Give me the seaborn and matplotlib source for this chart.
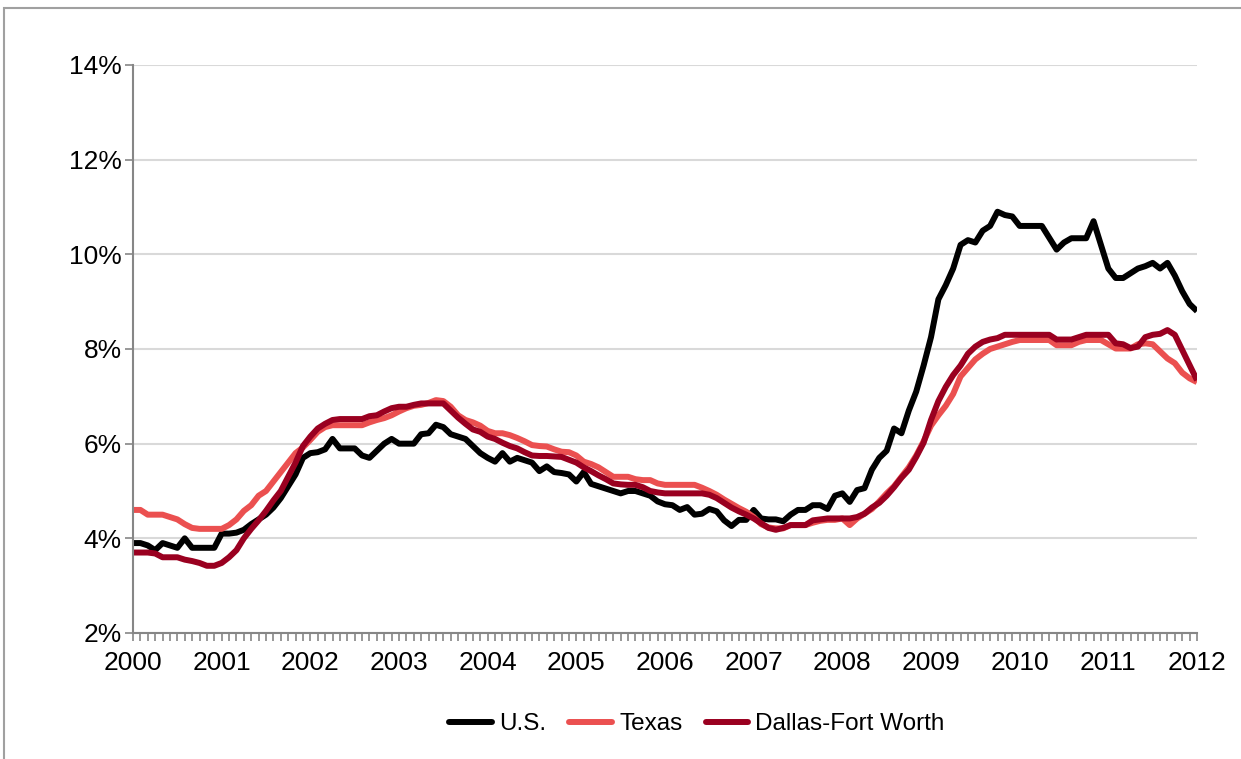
import numpy as np
import pandas as pd
import matplotlib
matplotlib.use("Agg")
import matplotlib.pyplot as plt
import seaborn as sns
from matplotlib.lines import Line2D
from matplotlib.patches import Rectangle
from matplotlib.ticker import MultipleLocator, FuncFormatter

# Monthly unemployment rates, Jan 2000 - Jan 2012 (percent)
us = [
    3.9, 3.9, 3.85, 3.75, 3.9, 3.85, 3.8, 4.0, 3.8, 3.8, 3.8, 3.8,
    4.1, 4.1, 4.12, 4.18, 4.3, 4.4, 4.5, 4.65, 4.85, 5.1, 5.35, 5.7,
    5.8, 5.82, 5.88, 6.1, 5.9, 5.9, 5.9, 5.75, 5.7, 5.85, 6.0, 6.1,
    6.0, 6.0, 6.0, 6.2, 6.22, 6.4, 6.35, 6.2, 6.15, 6.1, 5.95, 5.8,
    5.7, 5.62, 5.8, 5.62, 5.7, 5.65, 5.6, 5.42, 5.52, 5.4, 5.38, 5.35,
    5.2, 5.4, 5.15, 5.1, 5.05, 5.0, 4.95, 5.0, 5.0, 4.95, 4.9, 4.78,
    4.72, 4.7, 4.6, 4.66, 4.5, 4.52, 4.62, 4.57, 4.38, 4.26, 4.39, 4.39,
    4.6, 4.42, 4.4, 4.4, 4.36, 4.5, 4.6, 4.6, 4.7, 4.7, 4.62, 4.9,
    4.95, 4.77, 5.02, 5.06, 5.45, 5.7, 5.85, 6.32, 6.22, 6.7, 7.1, 7.65,
    8.25, 9.05, 9.35, 9.7, 10.2, 10.3, 10.25, 10.5, 10.6, 10.9, 10.83, 10.8,
    10.6, 10.6, 10.6, 10.6, 10.35, 10.1, 10.25, 10.34, 10.34, 10.34, 10.7, 10.2,
    9.7, 9.5, 9.5, 9.6, 9.7, 9.75, 9.82, 9.7, 9.82, 9.55, 9.22, 8.95,
    8.8,
]
texas = [
    4.6, 4.6, 4.5, 4.5, 4.5, 4.45, 4.4, 4.3, 4.22, 4.2, 4.2, 4.2,
    4.2, 4.28, 4.4, 4.58, 4.7, 4.9, 5.0, 5.2, 5.4, 5.6, 5.8, 5.92,
    6.08, 6.25, 6.35, 6.39, 6.39, 6.39, 6.39, 6.39, 6.45, 6.5, 6.54, 6.6,
    6.68, 6.75, 6.8, 6.82, 6.86, 6.92, 6.9, 6.78, 6.6, 6.5, 6.45, 6.38,
    6.27, 6.22, 6.22, 6.18, 6.12, 6.05, 5.97, 5.95, 5.94, 5.88, 5.83, 5.82,
    5.75, 5.62, 5.57, 5.5, 5.4, 5.3, 5.3, 5.3, 5.25, 5.23, 5.23, 5.16,
    5.13, 5.13, 5.13, 5.13, 5.13, 5.07, 5.0, 4.92, 4.82, 4.73, 4.64, 4.56,
    4.45, 4.3, 4.23, 4.21, 4.21, 4.28, 4.28, 4.28, 4.33, 4.37, 4.39, 4.39,
    4.42, 4.28, 4.42, 4.52, 4.62, 4.78, 4.95, 5.1, 5.3, 5.5, 5.75, 6.05,
    6.38, 6.6, 6.8, 7.05, 7.42, 7.6, 7.78, 7.9, 8.0, 8.05, 8.1, 8.15,
    8.19, 8.19, 8.19, 8.19, 8.19, 8.08, 8.08, 8.08, 8.15, 8.19, 8.19, 8.19,
    8.1, 8.01, 8.01, 8.01, 8.1, 8.12, 8.1, 7.95, 7.8, 7.7, 7.5, 7.38,
    7.3,
]
dfw = [
    3.7, 3.7, 3.7, 3.68, 3.6, 3.6, 3.6, 3.55, 3.52, 3.48, 3.42, 3.42,
    3.48, 3.6, 3.75, 4.0, 4.2, 4.38, 4.58, 4.8, 5.0, 5.3, 5.6, 5.95,
    6.15, 6.32, 6.42, 6.5, 6.52, 6.52, 6.52, 6.52, 6.58, 6.6, 6.68, 6.75,
    6.78, 6.78, 6.82, 6.85, 6.85, 6.85, 6.85, 6.7, 6.55, 6.42, 6.3, 6.25,
    6.15, 6.1, 6.02, 5.95, 5.9, 5.82, 5.75, 5.74, 5.74, 5.73, 5.72, 5.66,
    5.6, 5.5, 5.42, 5.33, 5.25, 5.16, 5.14, 5.13, 5.13, 5.08, 5.0, 4.97,
    4.95, 4.95, 4.95, 4.95, 4.95, 4.95, 4.92, 4.85, 4.75, 4.65, 4.57, 4.5,
    4.42, 4.32, 4.22, 4.18, 4.22, 4.28, 4.28, 4.28, 4.38, 4.4, 4.42, 4.42,
    4.42, 4.42, 4.45, 4.52, 4.65, 4.75, 4.9, 5.08, 5.28, 5.45, 5.72, 6.02,
    6.5, 6.9, 7.2, 7.45, 7.65, 7.9, 8.05, 8.15, 8.2, 8.23, 8.3, 8.3,
    8.3, 8.3, 8.3, 8.3, 8.3, 8.2, 8.2, 8.2, 8.25, 8.3, 8.3, 8.3,
    8.3, 8.12, 8.1, 8.02, 8.05, 8.25, 8.3, 8.32, 8.4, 8.3, 7.98, 7.66,
    7.34,
]

series_names = ["U.S.", "Texas", "Dallas-Fort Worth"]
series_colors = ["#000000", "#EB5050", "#9A0020"]
year_labels = [str(y) for y in range(2000, 2013)]
y_ticks = [2, 4, 6, 8, 10, 12, 14]

start_year = 2000
x = start_year + np.arange(len(us)) / 12.0

df = pd.DataFrame({
    "x": np.concatenate([x, x, x]),
    "rate": us + texas + dfw,
    "series": sum([[n] * len(us) for n in series_names], []),
})

sns.set_theme(style="white")
plt.rcParams["font.family"] = ["Liberation Sans", "DejaVu Sans"]
plt.rcParams["text.color"] = "black"

fig = plt.figure(figsize=(12.41, 7.59), dpi=100)
ax = fig.add_axes([133 / 1241, 1 - 633 / 759, (1197 - 133) / 1241, (633 - 65) / 759])

palette = dict(zip(series_names, series_colors))
sns.lineplot(data=df, x="x", y="rate", hue="series", palette=palette,
             hue_order=series_names, linewidth=4.3, ax=ax, legend=False,
             sort=False)
for ln in ax.get_lines():
    ln.set_solid_joinstyle("round")
    ln.set_solid_capstyle("butt")

ax.set_xlim(start_year, start_year + 12)
ax.set_ylim(y_ticks[0], y_ticks[-1])
ax.set_yticks(y_ticks)
ax.yaxis.set_major_formatter(FuncFormatter(lambda v, p: f"{v:.0f}%"))
ax.set_xticks([start_year + i for i in range(len(year_labels))])
ax.set_xticklabels(year_labels)
ax.xaxis.set_minor_locator(MultipleLocator(1 / 12))

ax.grid(axis="y", color="#D9D9D9", linewidth=1.5)
ax.grid(axis="x", visible=False)
ax.set_axisbelow(True)

for side in ["top", "right"]:
    ax.spines[side].set_visible(False)
for side in ["left", "bottom"]:
    ax.spines[side].set_color("#868686")
    ax.spines[side].set_linewidth(1.5)

ax.tick_params(axis="y", which="major", direction="out", length=6, width=1.2,
               color="#868686", labelsize=19, labelcolor="black", pad=2,
               left=True)
ax.tick_params(axis="x", which="both", direction="out", length=6, width=1.2,
               color="#868686", bottom=True)
ax.tick_params(axis="x", which="major", labelsize=19, labelcolor="black",
               pad=7)
ax.set_xlabel("")
ax.set_ylabel("")

handles = [Line2D([0], [0], color=c, linewidth=4.3, solid_capstyle="round")
           for c in series_colors]
leg = fig.legend(handles, series_names, loc="center",
                 bbox_to_anchor=(697 / 1241, 1 - 724 / 759), ncol=3,
                 frameon=False, fontsize=17.5, handlelength=1.75,
                 handletextpad=0.3, columnspacing=0.95)
for t in leg.get_texts():
    t.set_color("black")

# outer chart frame
fig.add_artist(Rectangle((4 / 1241, -0.1), 1.2, 1 - 8 / 759 + 0.1,
                         transform=fig.transFigure, fill=False,
                         edgecolor="#A0A0A0", linewidth=1.5))

fig.savefig("out.png", dpi=100)
